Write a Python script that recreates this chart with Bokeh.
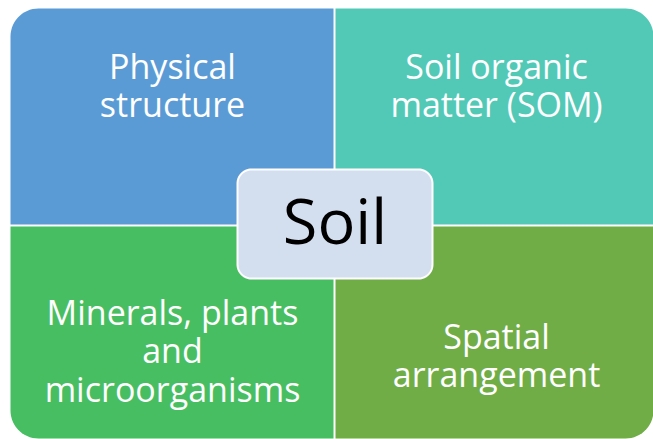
import numpy as np
from bokeh.plotting import figure
from bokeh.models import Range1d
from bokeh.core.properties import value
from bokeh.embed import file_html
from bokeh.resources import INLINE

# ---- content ----
quadrant_labels = [
    ["Physical", "structure"],
    ["Soil organic", "matter (SOM)"],
    ["Minerals, plants", "and", "microorganisms"],
    ["Spatial", "arrangement"],
]
quadrant_colors = ["#5B9BD5", "#52C9B6", "#48BE62", "#70AD47"]
center_label = "Soil"
center_fill = "#D3DEEF"

# ---- layout (pixel coordinates of picture) ----
LEFT, RIGHT, TOP, BOTTOM = 10, 653, 8, 438
VX0, VX1 = 333, 335      # vertical white gap
HY0, HY1 = 224, 226      # horizontal white gap
R_OUT = 28
CB = dict(l=237, r=432, t=169, b=278, rad=14)

FONT = "Open Sans"


def rounded_rect(l, r, t, b, radii):
    """radii: (top_left, top_right, bottom_right, bottom_left); y grows downward."""
    tl, tr, br, bl = radii
    xs, ys = [], []

    def arc(cx, cy, rad, a0, a1):
        if rad <= 0:
            xs.append(cx); ys.append(cy)
            return
        for a in np.linspace(a0, a1, 16):
            xs.append(cx + rad * np.cos(a))
            ys.append(cy + rad * np.sin(a))

    arc(l + tl, t + tl, tl, np.pi, 1.5 * np.pi) if tl else arc(l, t, 0, 0, 0)
    arc(r - tr, t + tr, tr, 1.5 * np.pi, 2 * np.pi) if tr else arc(r, t, 0, 0, 0)
    arc(r - br, b - br, br, 0, 0.5 * np.pi) if br else arc(r, b, 0, 0, 0)
    arc(l + bl, b - bl, bl, 0.5 * np.pi, np.pi) if bl else arc(l, b, 0, 0, 0)
    return xs, ys


p = figure(width=653, height=439, x_range=Range1d(0, 653), y_range=Range1d(439, 0),
           output_backend="svg", toolbar_location=None, min_border=0)
p.axis.visible = False
p.grid.visible = False
p.outline_line_color = None
p.background_fill_color = "white"
p.border_fill_color = "white"

boxes = [
    (LEFT, VX0, TOP, HY0, (R_OUT, 0, 0, 0)),
    (VX1, RIGHT, TOP, HY0, (0, R_OUT, 0, 0)),
    (LEFT, VX0, HY1, BOTTOM, (0, 0, 0, R_OUT)),
    (VX1, RIGHT, HY1, BOTTOM, (0, 0, R_OUT, 0)),
]
for (l, r, t, b, rad), col in zip(boxes, quadrant_colors):
    xs, ys = rounded_rect(l, r, t, b, rad)
    p.patch(xs, ys, fill_color=col, line_color=None)

text_centers = [172, 496, 172, 496]
first_baselines = [65, 65, 311, 335]
line_gap = 38.5
for lines, cx, y0 in zip(quadrant_labels, text_centers, first_baselines):
    ys = [y0 + i * line_gap for i in range(len(lines))]
    p.text(x=[cx] * len(lines), y=ys, text=lines, text_color="white",
           text_font=value(FONT), text_font_size="34px",
           text_align="center", text_baseline="alphabetic")

xs, ys = rounded_rect(CB["l"], CB["r"], CB["t"], CB["b"], (CB["rad"],) * 4)
p.patch(xs, ys, fill_color=center_fill, line_color="white", line_width=2)
p.text(x=[(CB["l"] + CB["r"]) / 2], y=[219], text=[center_label], text_color="black",
       text_font=value(FONT), text_font_size="63px",
       text_align="center", text_baseline="alphabetic")

open("out.html", "w").write(file_html(p, INLINE))
